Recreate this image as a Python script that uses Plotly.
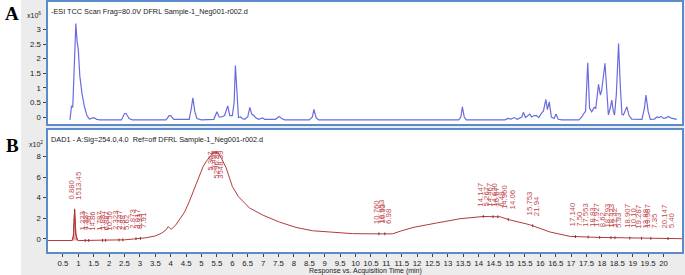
import numpy as np
import plotly.graph_objects as go

# ---------------- data ----------------
# Panel A: ESI TCC (x10^6)
tic_time = [0.73, 0.78, 0.82, 0.86, 0.92, 0.96, 1.0, 1.05, 1.12, 1.2, 1.28, 1.36, 1.45, 1.5, 1.6, 1.7,
            2.4, 2.5, 2.55, 2.65, 2.75, 3.85, 3.95, 4.0, 4.1, 4.6, 4.67, 4.72, 4.78, 4.85, 5.0,
            5.4, 5.5, 5.57, 5.65, 5.75, 5.85, 5.92, 6.0, 6.06, 6.1, 6.15, 6.2, 6.27, 6.32, 6.4,
            6.5, 6.57, 6.63, 6.7, 6.75, 6.85, 6.98, 7.05, 7.4, 7.52, 7.6, 7.7, 8.5, 8.6, 8.65,
            8.72, 8.8, 13.35, 13.42, 13.47, 13.53, 13.6, 14.85, 14.95, 15.05, 15.15, 15.25, 15.4,
            15.45, 15.52, 15.6, 15.66, 15.72, 15.8, 15.88, 15.95, 16.05, 16.1, 16.18, 16.23, 16.29,
            16.36, 16.45, 16.51, 16.58, 16.7, 17.25, 17.35, 17.4, 17.47, 17.54, 17.6, 17.67, 17.72,
            17.75, 17.8, 17.89, 17.95, 17.99, 18.1, 18.17, 18.21, 18.27, 18.32, 18.37, 18.41, 18.47,
            18.54, 18.6, 18.65, 18.7, 18.76, 18.81, 18.88, 18.97, 19.3, 19.38, 19.43, 19.5, 19.57,
            19.7, 19.79, 19.85, 19.92, 20.0, 20.08, 20.16, 20.25, 20.35, 20.43]
tic_value = [-0.1, 0.38, 0.33, 1.5, 3.2, 2.6, 2.3, 1.4, 0.8, 0.35, 0.05, -0.07, -0.05, -0.02, -0.08, -0.1,
             -0.1, 0.12, 0.12, -0.05, -0.1, -0.1, 0.05, 0.05, -0.08, -0.08, 0.3, 0.66, 0.2, -0.05, -0.1,
             -0.08, 0.18, 0.0, 0.0, 0.05, 0.38, 0.05, 0.05, 0.5, 1.76, 0.6, -0.02, 0.0, -0.05, -0.08,
             0.0, 0.33, 0.1, 0.05, -0.02, -0.08, -0.03, -0.08, -0.08, 0.02, -0.05, -0.1, -0.1, 0.0, 0.26,
             -0.02, -0.1, -0.1, 0.0, 0.35, 0.0, -0.1, -0.1, -0.05, -0.07, -0.02, -0.08, 0.0,
             0.16, -0.02, 0.05, 0.1, 0.0, 0.05, 0.05, -0.02, 0.15, 0.2, 0.6, 0.25, 0.52,
             0.0, -0.05, 0.1, -0.08, -0.1, -0.1, 0.0, 0.1, 0.2, 1.86, 0.3, 0.18, 0.3,
             0.33, 0.3, 1.12, 0.75, 0.9, 1.84, 0.5, 0.07, 0.3, 0.58, 0.2, 0.07, 0.8,
             2.52, 1.0, 0.1, 0.07, 0.25, 0.35, 0.05, -0.07, -0.08, 0.3, 0.75, 0.2, -0.08,
             -0.07, 0.0, -0.02, 0.02, -0.05, -0.03, 0.02, -0.04, -0.06, -0.08]

# Panel B: DAD1 254 nm (x10^2)
uv_time = [0.0, 0.8, 0.84, 0.88, 0.92, 0.97, 1.0, 2.0, 2.5, 2.8, 3.2, 3.5, 3.7, 3.85, 3.92, 3.97,
           4.02, 4.15, 4.3, 4.45, 4.6, 4.75, 4.93, 5.05, 5.15, 5.25, 5.36, 5.47, 5.56, 5.65, 5.8,
           5.9, 6.0, 6.2, 6.56, 7.0, 7.53, 8.07, 8.6, 9.16, 9.9, 10.5, 11.2, 11.5, 11.87, 12.63,
           13.06, 13.39, 14.14, 14.69, 15.0, 15.66, 16.31, 16.97, 17.94, 19.0, 20.6]
uv_value = [-0.15, -0.15, 0.3, 2.8, 0.5, -0.1, -0.15, -0.13, -0.08, 0.0, 0.12, 0.3, 0.55, 0.9, 1.2, 1.05,
            0.95, 1.3, 1.9, 2.6, 3.6, 4.8, 6.2, 7.0, 7.5, 7.9, 8.3, 8.4, 8.3, 7.8, 6.9,
            6.0, 5.1, 4.1, 3.0, 2.3, 1.64, 1.12, 0.8, 0.68, 0.52, 0.5, 0.5, 0.8, 1.12, 1.55,
            1.75, 1.96, 2.18, 2.15, 1.86, 1.38, 0.68, 0.25, 0.15, 0.08, 0.03]

# Integrated peaks: retention time label and area label
peak_rt = [0.880, 1.223, 1.337, 1.787, 1.887, 2.323, 2.447, 2.873, 3.017,
           5.367, 5.493, 10.760, 10.953, 14.147, 14.467, 14.620, 14.960, 15.753,
           17.140, 17.553, 17.927, 18.293, 18.423, 18.907, 19.287, 19.587, 20.147]
peak_area = ["1513.45", "7.36", "14.86", "6.887", "10.50", "2.88", "5.62", "8.33", "7.91",
             "5296.88", "3548.39", "16.93", "6.98", "5.267", "16.67", "6.48", "14.06", "21.94",
             "7.50", "18.83", "8.62", "12.42", "5.93", "10.10", "13.88", "7.35", "5.40"]

x_tick_vals = [0.5 * i for i in range(1, 41)]
x_tick_text = ["%g" % v for v in x_tick_vals]
a_tick_vals = [0, 0.5, 1, 1.5, 2, 2.5, 3]
b_tick_vals = [0, 2, 4, 6, 8]

# ---------------- figure ----------------
W, H = 685, 275
def px(x):
    return x / W
def py(y):
    return 1 - y / H

BLUE_FRAME = "#5b8bc8"
TIC_COL = "#6b6be0"
UV_COL = "#b23a3a"
LBL_COL = "#bf4a52"
FONT = "Liberation Sans, Arial, sans-serif"

fig = go.Figure()
fig.add_trace(go.Scatter(x=tic_time, y=tic_value, mode="lines",
                         line=dict(color=TIC_COL, width=1.2), xaxis="x", yaxis="y",
                         showlegend=False, hoverinfo="skip"))
# filled first UV peak
seg = [(t, v) for t, v in zip(uv_time, uv_value) if 0.8 <= t <= 1.0]
fig.add_trace(go.Scatter(x=[s[0] for s in seg], y=[s[1] for s in seg], mode="lines",
                         fill="toself", fillcolor="rgba(225,140,140,0.75)",
                         line=dict(color=UV_COL, width=1), xaxis="x2", yaxis="y2",
                         showlegend=False, hoverinfo="skip"))
fig.add_trace(go.Scatter(x=uv_time, y=uv_value, mode="lines",
                         line=dict(color=UV_COL, width=1), xaxis="x2", yaxis="y2",
                         showlegend=False, hoverinfo="skip"))
peak_y = np.interp(peak_rt, uv_time, uv_value)
fig.add_trace(go.Scatter(x=peak_rt, y=peak_y, mode="markers",
                         marker=dict(symbol="line-ns", size=2, line=dict(color="#8a2a2a", width=1)),
                         xaxis="x2", yaxis="y2", showlegend=False, hoverinfo="skip"))

annotations = []
for rt, area, yv in zip(peak_rt, peak_area, peak_y):
    for dx, txt in ((-0.1, "%.3f" % rt), (0.12, area)):
        if yv > 7:
            anc, yy, ys = "top", yv + 0.4, 0
        else:
            anc, yy, ys = "bottom", yv, 8
        annotations.append(dict(x=rt + dx, y=yy, xref="x2", yref="y2", text=txt,
                                textangle=-90, showarrow=False, xanchor="center", yanchor=anc,
                                yshift=ys, font=dict(family=FONT, size=7.8, color=LBL_COL)))

def ptext(x, y, text, size, color="#222", family=FONT, xanchor="left", yanchor="middle"):
    annotations.append(dict(x=px(x), y=py(y), xref="paper", yref="paper", text=text,
                            showarrow=False, xanchor=xanchor, yanchor=yanchor,
                            font=dict(family=family, size=size, color=color)))

ptext(49, 11.5, "-ESI TCC Scan Frag=80.0V DFRL Sample-1_Neg001-r002.d", 7.3)
ptext(49, 140, "DAD1 - A:Sig=254.0,4.0  Ref=off DFRL Sample-1_Neg001-r002.d", 7.3)
ptext(25, 14.5, "x10<sup>6</sup>", 7)
ptext(27, 144, "x10<sup>2</sup>", 7)
ptext(12, 13.5, "<b>A</b>", 19, color="#000", family="Liberation Serif, Times New Roman, serif", xanchor="center")
ptext(12, 145, "<b>B</b>", 19, color="#000", family="Liberation Serif, Times New Roman, serif", xanchor="center")
ptext(365, 271, "Response vs. Acquisition Time (min)", 7, xanchor="center")

x_dom = [px(47.5), px(682)]
axis_common = dict(showline=True, mirror=True, linecolor=BLUE_FRAME, linewidth=2,
                   showgrid=False, zeroline=False, ticks="outside", ticklen=3,
                   tickcolor="#444", tickfont=dict(family=FONT, size=7.8, color="#222"))
top_x = {k: v for k, v in axis_common.items() if k != "ticks"}

fig.update_layout(
    width=W, height=H,
    margin=dict(l=0, r=0, t=0, b=0),
    paper_bgcolor="#ececec", plot_bgcolor="white",
    xaxis=dict(domain=x_dom, range=[0, 20.6], anchor="y", showticklabels=False, ticks="", **top_x),
    yaxis=dict(domain=[py(124), py(2)], range=[-0.24, 3.94], anchor="x",
               tickvals=a_tick_vals, ticktext=["%g" % v for v in a_tick_vals], **axis_common),
    xaxis2=dict(domain=x_dom, range=[0, 20.6], anchor="y2", tickvals=x_tick_vals,
                ticktext=x_tick_text, **axis_common),
    yaxis2=dict(domain=[py(252), py(130)], range=[-1.26, 10.56], anchor="x2",
                tickvals=b_tick_vals, ticktext=["%g" % v for v in b_tick_vals], **axis_common),
    annotations=annotations,
    shapes=[dict(type="rect", xref="paper", yref="paper", x0=0, x1=px(21), y0=0, y1=1,
                 fillcolor="white", line=dict(width=0), layer="below")],
)

fig.write_html("out.html", config={"displayModeBar": False},
               post_script="document.body.style.margin='0';document.body.style.overflow='hidden';")
